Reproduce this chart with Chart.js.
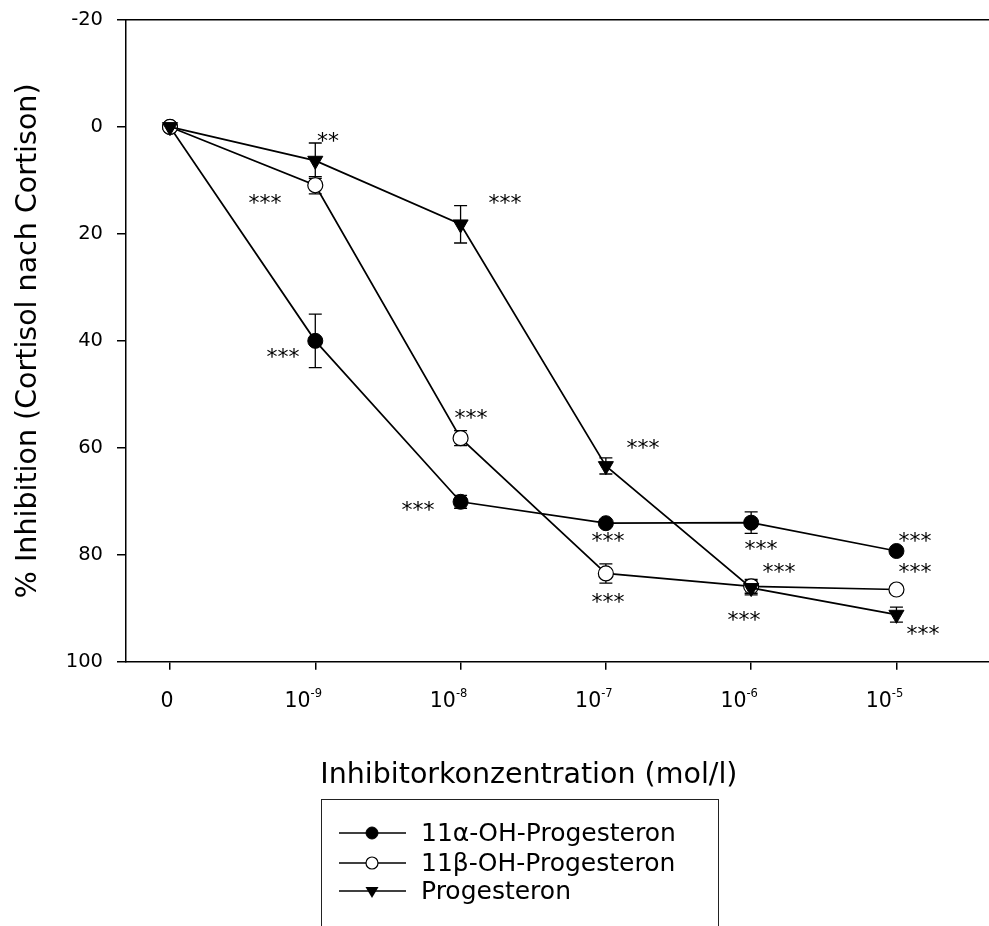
<!DOCTYPE html>
<html lang="de">
<head>
    <meta charset="utf-8">
    <title>Inhibition</title>
    <script src="https://cdn.jsdelivr.net/npm/chart.js@4.4.1/dist/chart.umd.min.js"></script>
    <style>
        body {
            margin: 0;
            background: #fff;
            font-family: "DejaVu Sans", sans-serif;
        }

        #wrap {
            position: relative;
            width: 989px;
            height: 926px;
            overflow: hidden;
        }

        #legend {
            position: absolute;
            left: 321px;
            top: 799px;
            width: 396px;
            height: 200px;
            border: 1.5px solid #222;
        }

        .row {
            position: absolute;
            left: 0;
            height: 30px;
            width: 396px;
        }

        .row svg {
            position: absolute;
            left: 0;
            top: 0;
        }

        .row span {
            position: absolute;
            left: 99px;
            top: 0;
            line-height: 30px;
            font-size: 25px;
            color: #000;
            white-space: nowrap;
        }
    </style>
</head>
<body>
<div id="wrap">
    <canvas id="myChart" width="989" height="926"></canvas>
    <div id="legend"></div>
</div>

<script>
    // x categories (inhibitor concentration, mol/l)
    var concLabels = ['0', '10^-9', '10^-8', '10^-7', '10^-6', '10^-5'];
    var yTicks = [-20, 0, 20, 40, 60, 80, 100];

    var seriesNames = ['11α-OH-Progesteron', '11β-OH-Progesteron', 'Progesteron'];
    var xTitle = 'Inhibitorkonzentration (mol/l)';
    var yTitle = '% Inhibition (Cortisol nach Cortison)';

    // % inhibition, mean and error
    var alphaMean = [0, 40.0, 70.1, 74.1, 74.0, 79.3];
    var alphaErr = [0, 5.0, 1.2, 0.4, 2.0, 0.4];
    var betaMean = [0, 10.9, 58.2, 83.5, 85.9, 86.5];
    var betaErr = [0, 1.6, 1.4, 1.8, 1.3, 0.4];
    var progMean = [0, 6.3, 18.2, 63.4, 86.2, 91.2];
    var progErr = [0, 3.3, 3.5, 1.5, 1.3, 1.4];

    // significance marks, placed in data units (x = category index, y = % inhibition)
    var starText = ['**', '***', '***', '***', '***', '***', '***', '***', '***', '***', '***', '***', '***', '***', '***'];
    var starX = [1.087, 0.654, 2.306, 0.778, 2.072, 3.255, 1.707, 3.014, 3.014, 4.067, 4.191, 3.950, 5.127, 5.127, 5.182];
    var starY = [2.1, 13.7, 13.7, 42.5, 53.9, 59.5, 71.1, 76.9, 88.3, 78.4, 82.7, 91.6, 76.9, 82.7, 94.3];

    var FONT = 'DejaVu Sans';
    var errors = [alphaErr, betaErr, progErr];

    function toPoints(arr) {
        return arr.map(function (v, i) { return {x: i, y: v}; });
    }

    // error bars, drawn under the markers
    var errorBars = {
        id: 'errorBars',
        beforeDatasetsDraw: function (chart) {
            var ctx = chart.ctx;
            var ys = chart.scales.y;
            ctx.save();
            ctx.strokeStyle = '#000';
            ctx.lineWidth = 1.3;
            chart.data.datasets.forEach(function (ds, d) {
                var meta = chart.getDatasetMeta(d);
                meta.data.forEach(function (pt, i) {
                    var e = errors[d][i];
                    if (!e) return;
                    var v = ds.data[i].y;
                    var y1 = ys.getPixelForValue(v - e);
                    var y2 = ys.getPixelForValue(v + e);
                    ctx.beginPath();
                    ctx.moveTo(pt.x, y1); ctx.lineTo(pt.x, y2);
                    ctx.moveTo(pt.x - 6.5, y1); ctx.lineTo(pt.x + 6.5, y1);
                    ctx.moveTo(pt.x - 6.5, y2); ctx.lineTo(pt.x + 6.5, y2);
                    ctx.stroke();
                });
            });
            ctx.restore();
        }
    };

    // asterisks, x tick labels with superscript exponents, x axis title
    var extraText = {
        id: 'extraText',
        afterDraw: function (chart) {
            var ctx = chart.ctx;
            var xs = chart.scales.x, ys = chart.scales.y;
            ctx.save();
            ctx.fillStyle = '#000';
            ctx.textAlign = 'center';
            ctx.textBaseline = 'alphabetic';
            ctx.font = '22px "' + FONT + '"';
            for (var i = 0; i < starText.length; i++) {
                ctx.fillText(starText[i], xs.getPixelForValue(starX[i]), ys.getPixelForValue(starY[i]) + 10);
            }

            var bottom = chart.chartArea.bottom;
            ctx.textAlign = 'left';
            concLabels.forEach(function (lab, i) {
                var px = xs.getPixelForValue(i);
                var parts = lab.split('^');
                ctx.font = '20.5px "' + FONT + '"';
                var w1 = ctx.measureText(parts[0]).width;
                var w2 = 0;
                if (parts[1]) {
                    ctx.font = '11.5px "' + FONT + '"';
                    w2 = ctx.measureText(parts[1]).width;
                }
                var left = px - (parts[1] ? 12 : 3) - (w1 + w2) / 2;
                ctx.font = '20.5px "' + FONT + '"';
                ctx.fillText(parts[0], left, bottom + 45.6);
                if (parts[1]) {
                    ctx.font = '11.5px "' + FONT + '"';
                    ctx.fillText(parts[1], left + w1, bottom + 35);
                }
            });

            // axis title sits a little left of the axis middle in the original
            ctx.textAlign = 'center';
            ctx.font = '28.5px "' + FONT + '"';
            ctx.fillText(xTitle, xs.getPixelForValue(2.47), bottom + 121.5);
            ctx.restore();
        }
    };

    var axisLine = {display: true, color: '#000', width: 1.5};
    var xMin = -0.3028, xMax = 5.637;

    var ctx = document.getElementById('myChart').getContext('2d');
    var chart = new Chart(ctx, {
        type: 'line',
        data: {
            datasets: [{
                label: seriesNames[0],
                data: toPoints(alphaMean),
                borderColor: '#000',
                borderWidth: 1.7,
                pointStyle: 'circle',
                pointRadius: 7.5,
                pointBackgroundColor: '#000',
                pointBorderColor: '#000',
                pointBorderWidth: 1,
                order: 3
            }, {
                label: seriesNames[1],
                data: toPoints(betaMean),
                borderColor: '#000',
                borderWidth: 1.7,
                pointStyle: 'circle',
                pointRadius: 7.5,
                pointBackgroundColor: '#fff',
                pointBorderColor: '#000',
                pointBorderWidth: 1.2,
                order: 2
            }, {
                label: seriesNames[2],
                data: toPoints(progMean),
                borderColor: '#000',
                borderWidth: 1.7,
                pointStyle: 'triangle',
                pointRotation: 180,
                pointRadius: 8.7,
                pointBackgroundColor: '#000',
                pointBorderColor: '#000',
                pointBorderWidth: 1,
                order: 1
            }]
        },
        options: {
            responsive: false,
            animation: false,
            devicePixelRatio: 1,
            layout: {autoPadding: false, padding: {top: 20, right: 0, bottom: 134.3, left: 0}},
            plugins: {
                legend: {display: false},
                tooltip: {enabled: false}
            },
            scales: {
                x: {
                    type: 'linear',
                    position: 'bottom',
                    min: xMin,
                    max: xMax,
                    afterBuildTicks: function (s) {
                        s.ticks = concLabels.map(function (l, i) { return {value: i}; });
                    },
                    ticks: {display: false},
                    grid: {drawOnChartArea: false, drawTicks: true, tickLength: 8, color: '#000', lineWidth: 1.5},
                    border: axisLine,
                    afterFit: function (s) { s.height = 130; }
                },
                xTop: {
                    type: 'linear',
                    position: 'top',
                    min: xMin,
                    max: xMax,
                    ticks: {display: false},
                    grid: {drawOnChartArea: false, drawTicks: false},
                    border: axisLine,
                    afterFit: function (s) { s.height = 0; }
                },
                y: {
                    reverse: true,
                    min: -20,
                    max: 100,
                    afterBuildTicks: function (s) {
                        s.ticks = yTicks.map(function (v) { return {value: v}; });
                    },
                    ticks: {color: '#000', font: {family: FONT, size: 19.5}, padding: 14},
                    grid: {drawOnChartArea: false, drawTicks: true, tickLength: 9, color: '#000', lineWidth: 1.5},
                    border: axisLine,
                    title: {
                        display: true,
                        text: yTitle,
                        color: '#000',
                        font: {family: FONT, size: 28.5},
                        padding: {top: 11, bottom: 0}
                    },
                    afterFit: function (s) {
                        s.width = 126;
                        // the label padding should not push the plot edges in
                        s.paddingTop = 0;
                        s.paddingBottom = 0;
                    }
                }
            }
        },
        plugins: [errorBars, extraText]
    });

    // legend box, built from the dataset names
    var symbols = [
        '<circle cx="50" cy="15" r="6" fill="#000" stroke="#000"/>',
        '<circle cx="50" cy="15" r="6" fill="#fff" stroke="#000" stroke-width="1.2"/>',
        '<polygon points="43.5,11 56.5,11 50,22" fill="#000"/>'
    ];
    var rowCenters = [33, 63, 91];
    var legend = document.getElementById('legend');
    seriesNames.forEach(function (name, i) {
        var row = document.createElement('div');
        row.className = 'row';
        row.style.top = (rowCenters[i] - 15) + 'px';
        row.innerHTML = '<svg width="90" height="30"><line x1="17" y1="15" x2="84" y2="15" stroke="#000" stroke-width="1.5"/>' +
            symbols[i] + '</svg><span>' + name + '</span>';
        legend.appendChild(row);
    });
</script>
</body>
</html>
